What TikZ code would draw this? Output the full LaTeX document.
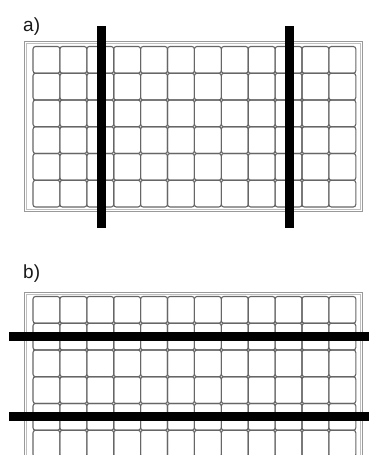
\documentclass[tikz,border=0pt]{standalone}
\usepackage{fontspec}
\setmainfont{Liberation Sans}
\begin{document}
\begin{tikzpicture}[x=1pt,y=-1pt,
  cellbox/.style={draw=black!60, line width=1.1pt, rounded corners=2.5pt},
  frameouter/.style={draw=black!40, line width=0.8pt},
  frameinner/.style={draw=black!25, line width=0.6pt},
  barline/.style={line width=9pt, black},
  lbl/.style={anchor=base west, inner sep=0pt, font=\fontsize{19}{19}\selectfont, text=black!90}]
\useasboundingbox (0,0) rectangle (369,455);
\begin{scope}
\clip (0,0) rectangle (369,455);
% panel a
\node[lbl] (la) at (23,31) {a)};
\draw[frameouter] (24.5,41.5) rectangle (362.5,211.5);
\draw[frameinner] (26.5,43.5) rectangle (360.5,209.5);
\foreach \i in {0,...,11}{
  \foreach \j in {0,...,5}{
    \draw[cellbox] ({33+\i*26.9},{46.5+\j*26.75}) rectangle ++(26.9,26.75);
  }
}
\coordinate (a1t) at (101,26);
\coordinate (a1b) at (101,228);
\coordinate (a2t) at (289,26);
\coordinate (a2b) at (289,228);
\draw[barline] (a1t) -- (a1b);
\draw[barline] (a2t) -- (a2b);
% panel b
\node[lbl] (lb) at (23,278) {b)};
\draw[frameouter] (24.5,292.5) rectangle (362.5,462.5);
\draw[frameinner] (26.5,294.5) rectangle (360.5,460.5);
\foreach \i in {0,...,11}{
  \foreach \j in {0,...,5}{
    \draw[cellbox] ({33+\i*26.9},{296.5+\j*26.75}) rectangle ++(26.9,26.75);
  }
}
\coordinate (b1l) at (9,336);
\coordinate (b1r) at (372,336);
\coordinate (b2l) at (9,416.5);
\coordinate (b2r) at (372,416.5);
\draw[barline] (b1l) -- (b1r);
\draw[barline] (b2l) -- (b2r);
\end{scope}
\end{tikzpicture}
\end{document}
